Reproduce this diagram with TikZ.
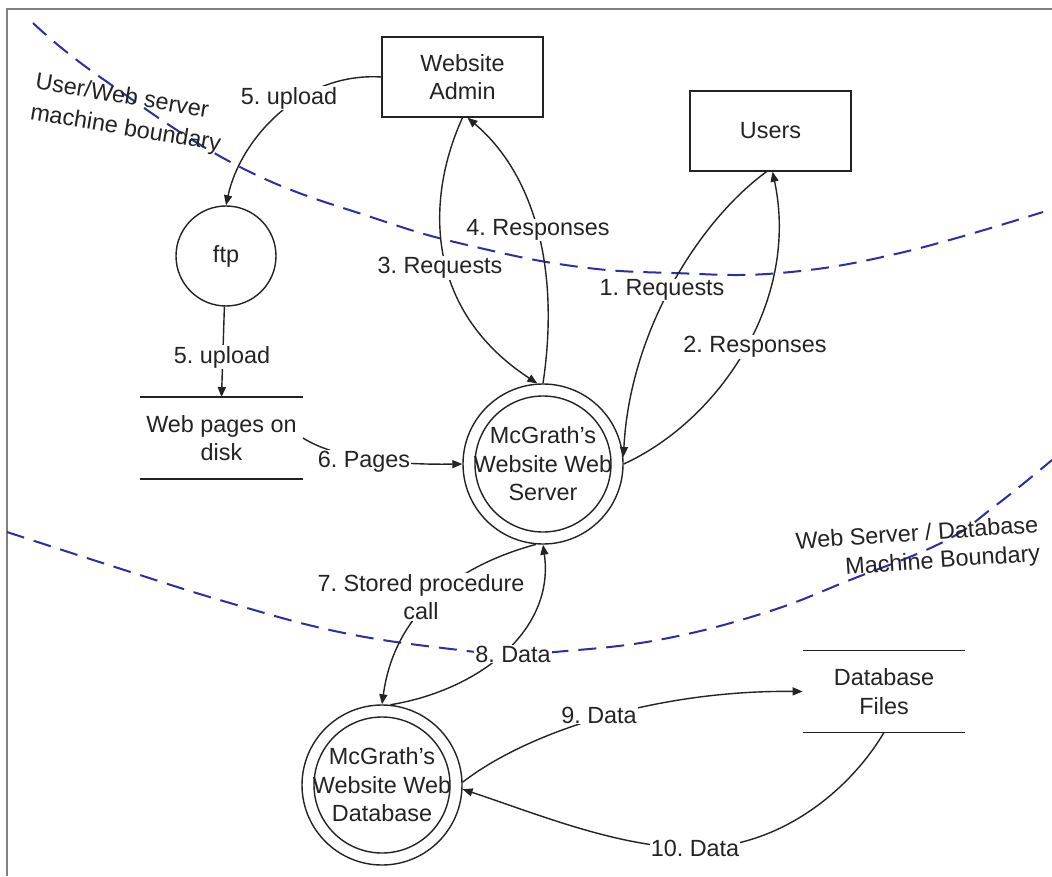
\documentclass[tikz,border=0pt]{standalone}
\usepackage{fontspec}
\setmainfont{Liberation Sans}
\usetikzlibrary{arrows.meta}
\definecolor{ink}{RGB}{35,35,35}
\definecolor{bound}{RGB}{45,45,165}
\definecolor{framegray}{RGB}{128,128,128}
\frenchspacing
\begin{document}
\begin{tikzpicture}[x=0.5pt,y=-0.5pt,
  font=\fontsize{11.7}{14.3}\selectfont,
  every node/.style={text=ink},
  entity/.style={draw=ink,line width=0.7pt,minimum width=80.5pt,minimum height=40pt,inner sep=0pt,align=center},
  datastore/.style={minimum width=81pt,minimum height=40.5pt,inner sep=0pt,align=center},
  proc/.style={circle,draw=ink,line width=0.7pt,minimum size=80pt,inner sep=0pt,align=center},
  flow/.style={draw=ink,line width=0.7pt,-{Triangle[length=5pt,width=4pt]}},
  storeline/.style={draw=ink,line width=0.8pt},
  flowlabel/.style={fill=white,inner sep=0.5pt,align=center},
  boundary/.style={draw=bound,line width=1pt,dash pattern=on 9pt off 5pt},
  boundlabel/.style={inner sep=0pt}
]
\useasboundingbox (0,0) rectangle (1052,876);
\fill[white] (0,0) rectangle (1052,876);

% frame edges
\draw[framegray,line width=1pt] (7,876) -- (7,9) -- (1052,9);

% machine boundaries
\draw[boundary] plot[smooth,tension=0.7] coordinates {(33,23) (100,77) (240,167) (380,220) (480,248) (580,267) (673,273) (780,273) (900,253) (1043,212)};
\draw[boundary] plot[smooth,tension=0.7] coordinates {(7,532) (115,567) (230,603) (344,633) (459,650) (513,654) (555,652) (658,640) (764,613) (850,580) (943,542) (995,506) (1052,460)};

% external entities
\node[entity] (admin) at (462.5,77) {Website\\Admin};
\node[entity] (users) at (770.5,131) {Users};

% processes
\node[proc,minimum size=50pt] (ftp) at (226,256) {ftp};
\node[proc] (server) at (543,464) {McGrath’s\\Website Web\\Server};
\draw[ink,line width=0.7pt] (server.center) circle[radius=34pt];
\node[proc] (db) at (382,785) {McGrath’s\\Website Web\\Database};
\draw[ink,line width=0.7pt] (db.center) circle[radius=34pt];

% data stores
\node[datastore] (pages) at (221.5,438) {Web pages on\\disk};
\draw[storeline] (pages.north west) -- (pages.north east);
\draw[storeline] (pages.south west) -- (pages.south east);
\node[datastore] (files) at (884,691.5) {Database\\Files};
\draw[storeline] (files.north west) -- (files.north east);
\draw[storeline] (files.south west) -- (files.south east);

% data flows
\draw[flow] (admin.west) .. controls (300,72) and (240,140) .. (ftp.north);
\draw[flow] (ftp) -- (pages.north);
\draw[flow] (admin.south) .. controls (425,200) and (425,310) .. (server.94);
\draw[flow] (server.90) .. controls (560,270) and (535,175) .. ([xshift=2.5pt]admin.south);
\draw[flow] ([xshift=-2pt]users.south) .. controls (700,220) and (630,330) .. (server.5);
\draw[flow] (server.0) .. controls (720,420) and (800,300) .. ([xshift=1pt]users.south);
\draw[flow] (pages.east) .. controls (335,458) and (390,465) .. (server.west);
\draw[flow] (server.265) .. controls (460,565) and (395,610) .. (db.90);
\draw[flow] (db.84) .. controls (480,690) and (555,630) .. (server.270);
\draw[flow] (db.2) .. controls (530,730) and (660,690) .. (files.west);
\draw[flow] (files.south) .. controls (850,790) and (780,848) .. (695,848)
  .. controls (620,848) and (540,815) .. (db.-3);

% flow labels
\node[flowlabel] (l5a) at (289,98) {5. upload};
\node[flowlabel] (l5b) at (222,357) {5. upload};
\node[flowlabel] (l3) at (440,268) {3. Requests};
\node[flowlabel] (l4) at (538,230) {4. Responses};
\node[flowlabel] (l1) at (662,290) {1. Requests};
\node[flowlabel] (l2) at (755,347) {2. Responses};
\node[flowlabel] (l6) at (364,462) {6. Pages};
\node[flowlabel] (l7) at (421,597) {7. Stored procedure\\call};
\node[flowlabel] (l8) at (513,654) {8. Data};
\node[flowlabel] (l9) at (599,715) {9. Data};
\node[flowlabel] (l10) at (695,848) {10. Data};

% boundary labels
\node[boundlabel,rotate=-9.5,align=left,font=\fontsize{11.7}{15.5}\selectfont] (b1) at (128,114) {User/Web server\\machine boundary};
\node[boundlabel,rotate=4,align=right] (b2) at (918,549) {Web Server / Database\\Machine Boundary};
\end{tikzpicture}
\end{document}
